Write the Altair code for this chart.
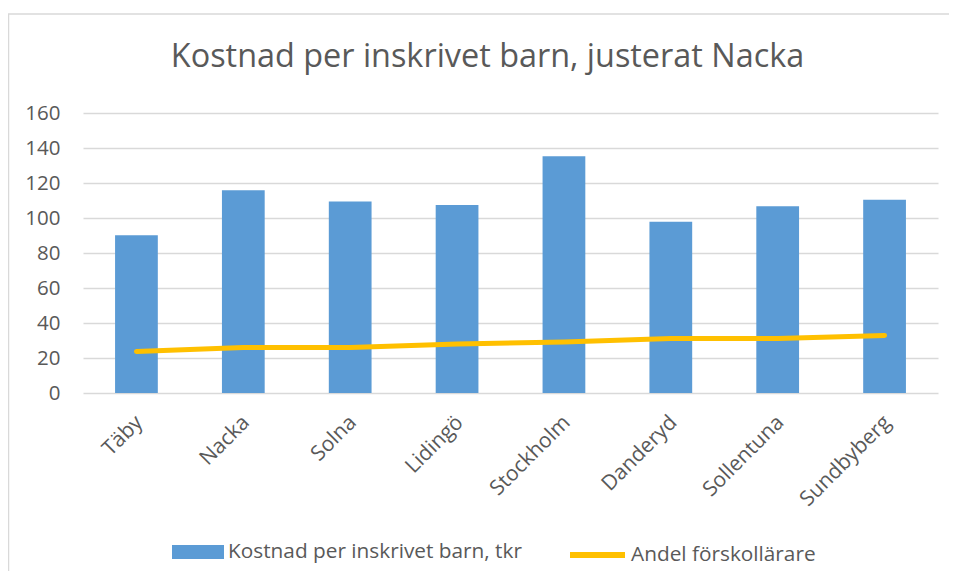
import altair as alt
import pandas as pd

kommuner = ["Täby", "Nacka", "Solna", "Lidingö", "Stockholm", "Danderyd", "Sollentuna", "Sundbyberg"]
kostnad = [90.2, 115.9, 109.4, 107.5, 135.3, 97.8, 106.7, 110.5]
andel = [23.7, 26.0, 26.0, 28.0, 29.1, 31.2, 31.2, 32.9]
y_ticks = [0, 20, 40, 60, 80, 100, 120, 140, 160]

s_bar = "Kostnad per inskrivet barn, tkr"
s_line = "Andel förskollärare"

df = pd.DataFrame({"kommun": kommuner, "kostnad": kostnad, "andel": andel,
                   "s_bar": s_bar, "s_line": s_line})

FONT = "Open Sans"
GREY = "#595959"

x_scale = alt.Scale(paddingInner=0.6, paddingOuter=0.3, round=False)
x_axis = alt.Axis(labelAngle=-45, labelAlign="right", labelBaseline="middle",
                  labelPadding=26, labelOffset=3, ticks=False, domain=False, grid=False,
                  labelFontSize=21, labelFont=FONT, labelColor=GREY, labelOverlap=False)

y_scale = alt.Scale(domain=[0, 160])
y_axis = alt.Axis(values=y_ticks, title=None, ticks=False, labelOverlap=False,
                  domain=False, labelFontSize=20.5, labelFont=FONT, labelColor=GREY,
                  labelPadding=23, grid=True, gridColor="#d9d9d9", gridWidth=1.5)

base = alt.Chart(df)

bars = base.mark_bar(color="#5b9bd5").encode(
    x=alt.X("kommun:N", sort=kommuner, title=None, scale=x_scale, axis=x_axis),
    y=alt.Y("kostnad:Q", scale=y_scale, axis=y_axis),
    fill=alt.Fill("s_bar:N", scale=alt.Scale(range=["#5b9bd5"]),
                  legend=alt.Legend(title=None, orient="none", legendX=89, legendY=413,
                                    symbolType="M-1,-0.27H1V0.27H-1Z", symbolSize=2704,
                                    symbolStrokeWidth=0, labelFontSize=20.8, labelFont=FONT,
                                    labelColor=GREY, padding=0, labelOffset=4,
                                    labelLimit=500)),
)

line = base.mark_line(strokeWidth=5, strokeCap="round", strokeJoin="round").encode(
    x=alt.X("kommun:N", sort=kommuner, title=None, scale=x_scale, axis=x_axis),
    y=alt.Y("andel:Q", scale=y_scale, axis=y_axis),
    stroke=alt.Stroke("s_line:N", scale=alt.Scale(range=["#ffc000"]),
                      legend=alt.Legend(title=None, orient="none", legendX=484, legendY=411.5,
                                        symbolType="stroke", symbolSize=3025,
                                        symbolStrokeWidth=6, labelFontSize=20.8, labelFont=FONT,
                                        labelColor=GREY, padding=0, labelOffset=3,
                                        labelLimit=500)),
)

border_data = alt.Data(values=[{"b": 1}])
border = alt.Chart(border_data).mark_rect(filled=False, stroke="#d9d9d9", strokeWidth=1.5).encode(
    x=alt.value(-74.5), x2=alt.value(920), y=alt.value(-99), y2=alt.value(520))

chart = alt.layer(border, bars, line).resolve_scale(
    fill="independent", stroke="independent"
).properties(
    width=855, height=280,
    title=alt.TitleParams("Kostnad per inskrivet barn, justerat Nacka", fontSize=32.4, font=FONT,
                          color=GREY, fontWeight="normal", anchor="middle", dx=-23,
                          baseline="alphabetic", offset=-86, frame="group"),
    autosize=alt.AutoSizeParams(type="none"),
    padding={"left": 75, "top": 105, "right": 11, "bottom": 178},
).configure(background="white").configure_view(stroke=None)

chart.save("out.html", embed_options={"renderer": "svg", "actions": False})
